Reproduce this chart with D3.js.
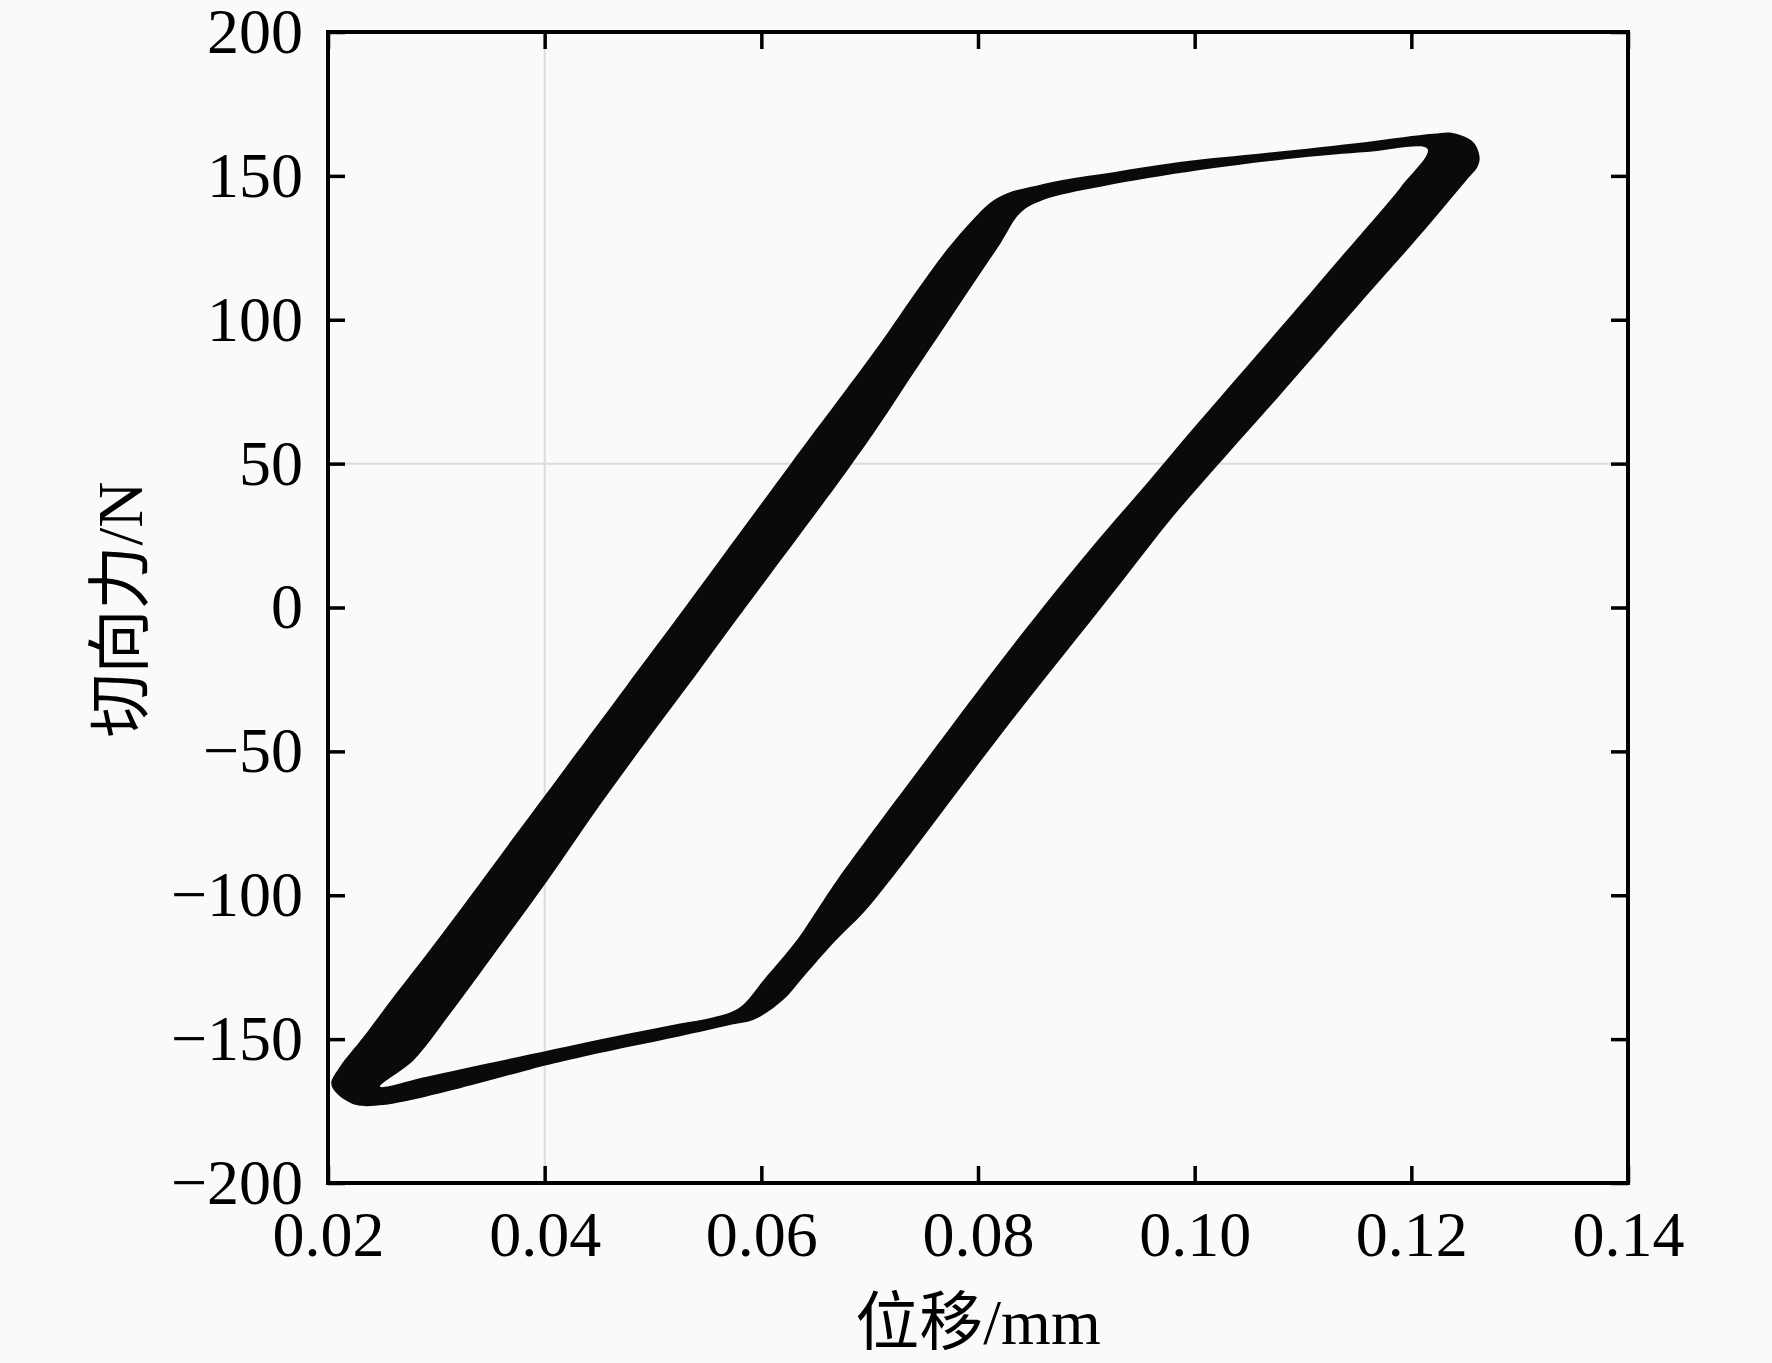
<!DOCTYPE html>
<html>
<head>
<meta charset="utf-8">
<script src="https://cdn.jsdelivr.net/npm/d3@7"></script>
<style>
    body { margin: 0; background: #fafafa; }
    svg { display: block; }
</style>
</head>
<body>
<div id="chart"></div>
<script>
// 坐标轴刻度
var xTicks = [0.02, 0.04, 0.06, 0.08, 0.10, 0.12, 0.14];
var yTicks = [-200, -150, -100, -50, 0, 50, 100, 150, 200];
var gridX = [0.04];
var gridY = [50];

// 滞回环外轮廓（位移 mm, 切向力 N）
var outerLoop = [
    [0.0203, -165.3], [0.0211, -159.6], [0.0233, -149.1], [0.0263, -134.1],
    [0.0294, -119.0], [0.0331, -100.5], [0.0372, -79.6], [0.0420, -55.3],
    [0.0475, -27.5], [0.0521, -4.3], [0.0627, 49.9], [0.0710, 91.9],
    [0.0742, 109.3], [0.0771, 124.2], [0.0795, 134.7], [0.0811, 140.6],
    [0.0827, 144.0], [0.0848, 146.1], [0.0878, 148.6], [0.0925, 151.3],
    [0.0986, 154.8], [0.1067, 158.0], [0.1159, 161.8], [0.1220, 164.6],
    [0.1238, 164.9], [0.1257, 161.8], [0.1263, 156.6], [0.1261, 153.1],
    [0.1251, 148.6], [0.1220, 134.7], [0.1192, 122.5], [0.1159, 108.5],
    [0.1123, 93.0], [0.1080, 74.4], [0.1031, 53.6], [0.0980, 31.6],
    [0.0934, 9.6], [0.0890, -11.3], [0.0840, -35.0], [0.0789, -60.0],
    [0.0745, -82.0], [0.0719, -94.7], [0.0694, -106.2], [0.0668, -116.0],
    [0.0639, -128.3], [0.0620, -136.4], [0.0593, -143.3], [0.0571, -145.1],
    [0.0525, -149.0], [0.0479, -152.6], [0.0423, -157.2], [0.0386, -160.6],
    [0.0315, -167.7], [0.0269, -171.8], [0.0251, -172.9], [0.0226, -172.9],
    [0.0208, -168.8]
];

// 滞回环内轮廓
var innerLoop = [
    [0.0248, -166.5], [0.0279, -157.3], [0.0313, -141.0], [0.0356, -119.0],
    [0.0403, -94.7], [0.0450, -69.2], [0.0497, -44.9], [0.0543, -21.7],
    [0.0577, -4.3], [0.0681, 48.5], [0.0710, 64.1], [0.0738, 80.1],
    [0.0769, 97.5], [0.0798, 113.8], [0.0821, 126.7], [0.0839, 137.1],
    [0.0860, 141.6], [0.0913, 146.2], [0.1005, 152.0], [0.1097, 156.3],
    [0.1159, 158.3], [0.1215, 159.3], [0.1190, 146.0], [0.1154, 130.0],
    [0.1131, 120.0], [0.1097, 105.0], [0.1048, 83.7], [0.1000, 62.8],
    [0.0956, 43.2], [0.0903, 20.0], [0.0836, -11.3], [0.0762, -48.0],
    [0.0670, -94.7], [0.0650, -106.0], [0.0633, -115.5], [0.0602, -129.5],
    [0.0580, -139.0], [0.0555, -142.5], [0.0525, -144.6], [0.0479, -148.0],
    [0.0423, -152.4], [0.0347, -158.5], [0.0290, -163.2]
];

var width = 1772, height = 1363;
var margin = {top: 32, right: 144, bottom: 180, left: 328};
var fontLatin = "'Liberation Serif', 'Times New Roman', 'Noto Sans CJK SC', serif";

var svg = d3.select("#chart").append("svg")
    .attr("width", width)
    .attr("height", height);

svg.append("rect")
    .attr("width", width)
    .attr("height", height)
    .attr("fill", "#fafafa");

var x = d3.scaleLinear()
    .domain([0.02, 0.14])
    .range([margin.left, width - margin.right]);
var y = d3.scaleLinear()
    .domain([-200, 200])
    .range([height - margin.bottom, margin.top]);

//网格线
svg.append("g").selectAll("line")
    .data(gridX)
    .enter().append("line")
    .attr("x1", function (d) { return x(d); })
    .attr("x2", function (d) { return x(d); })
    .attr("y1", y(-200))
    .attr("y2", y(200))
    .attr("stroke", "#dcdcdc")
    .attr("stroke-width", 2);
svg.append("g").selectAll("line")
    .data(gridY)
    .enter().append("line")
    .attr("x1", x(0.02))
    .attr("x2", x(0.14))
    .attr("y1", function (d) { return y(d); })
    .attr("y2", function (d) { return y(d); })
    .attr("stroke", "#dcdcdc")
    .attr("stroke-width", 2);

//滞回环（外轮廓与内轮廓之间填充）
var ring = d3.line()
    .x(function (d) { return x(d[0]); })
    .y(function (d) { return y(d[1]); })
    .curve(d3.curveCatmullRomClosed.alpha(0.5));

svg.append("path")
    .attr("d", ring(outerLoop) + ring(innerLoop))
    .attr("fill", "#0a0a0a")
    .attr("fill-rule", "evenodd");

//坐标轴
var tickLen = 17;
var fmtX = d3.format(".2f");

var xAxisB = d3.axisBottom(x).tickValues(xTicks).tickSizeInner(-tickLen).tickSizeOuter(0)
    .tickPadding(28).tickFormat(fmtX);
var xAxisT = d3.axisTop(x).tickValues(xTicks).tickSizeInner(-tickLen).tickSizeOuter(0)
    .tickFormat("");
var yAxisL = d3.axisLeft(y).tickValues(yTicks).tickSizeInner(-tickLen).tickSizeOuter(0)
    .tickPadding(25);
var yAxisR = d3.axisRight(y).tickValues(yTicks).tickSizeInner(-tickLen).tickSizeOuter(0)
    .tickFormat("");

function styleAxis(g) {
    g.select(".domain").remove();
    g.selectAll(".tick line").attr("stroke", "#000").attr("stroke-width", 3.5);
    g.selectAll(".tick text")
        .attr("font-family", fontLatin)
        .attr("font-size", 64)
        .attr("fill", "#000");
}

svg.append("g").attr("transform", "translate(0," + y(-200) + ")").call(xAxisB).call(styleAxis);
svg.append("g").attr("transform", "translate(0," + y(200) + ")").call(xAxisT).call(styleAxis);
svg.append("g").attr("transform", "translate(" + x(0.02) + ",0)").call(yAxisL).call(styleAxis);
svg.append("g").attr("transform", "translate(" + x(0.14) + ",0)").call(yAxisR).call(styleAxis);

//边框
svg.append("rect")
    .attr("x", x(0.02))
    .attr("y", y(200))
    .attr("width", x(0.14) - x(0.02))
    .attr("height", y(-200) - y(200))
    .attr("fill", "none")
    .attr("stroke", "#000")
    .attr("stroke-width", 4);

//轴标题
svg.append("text")
    .attr("x", (x(0.02) + x(0.14)) / 2)
    .attr("y", 1344)
    .attr("text-anchor", "middle")
    .attr("font-family", fontLatin)
    .attr("font-size", 64)
    .attr("fill", "#000")
    .text("位移/mm");

svg.append("text")
    .attr("transform", "translate(142," + (y(0) + 2) + ") rotate(-90)")
    .attr("text-anchor", "middle")
    .attr("font-family", fontLatin)
    .attr("font-size", 64)
    .attr("fill", "#000")
    .text("切向力/N");
</script>
</body>
</html>
